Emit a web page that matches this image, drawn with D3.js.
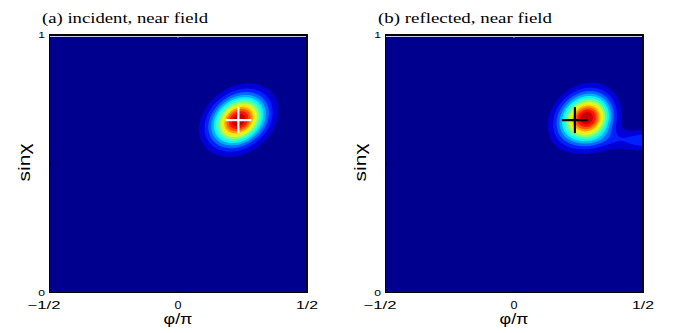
<!DOCTYPE html>
<html>
<head>
<meta charset="utf-8">
<script src="https://cdn.jsdelivr.net/npm/d3@7"></script>
<style>
  body { margin: 0; background: #fff; }
  svg { display: block; }
</style>
</head>
<body>
<svg id="chart" width="677" height="333"></svg>
<script>
// Chart values

const panelTitles = ["(a) incident, near field", "(b) reflected, near field"];
const xTicks = [-0.5, 0, 0.5];
const xTickLabels = ["\u22121/2", "0", "1/2"];
const yTicks = [0, 1];
const yTickLabels = ["0", "1"];

// Gaussian components of each intensity map (phi/pi, sin chi)
const blobA = [
  { cx: 0.235, cy: 0.67, sx: 0.067, sy: 0.062, rho: 0.25, amp: 1 }
];
const blobB = [
  { cx: 0.30, cy: 0.678, sx: 0.054, sy: 0.06, rho: 0.1, amp: 1 },
  { cx: 0.235, cy: 0.672, sx: 0.054, sy: 0.06, rho: 0.2, amp: 0.55 },
  { cx: 0.6, cy: 0.592, sx: 0.16, sy: 0.028, rho: 0, amp: 0.32 }
];
const blobs = [blobA, blobB];

// beam direction markers
const crossA = [0.234, 0.67];
const crossB = [0.236, 0.67];
const crosses = [crossA, crossB];
const crossColors = ["#fff", "#000"];

// filled contour levels (fraction of the peak)
const levels = d3.range(1, 14).map((k) => k / 14);

// //////////////////////////////////////////////////////////////////////////
// Layout

const panelLeft = [49, 385];
const plotTop = 35;
const plotW = 258;
const plotH = 258;
const gridN = 258;
const sans = "Liberation Sans, Arial, sans-serif";
const serif = "Liberation Serif, Times New Roman, serif";

// measured text widths (the original figure is stretched sideways)
const titleWidths = [166, 174];
const xTickWidths = [33, 7, 22];

const svg = d3.select("#chart");

// MATLAB style jet colormap
const jet = (t) => {
  const x = (1 + 63 * t) / 64;
  const c = (v) => Math.max(0, Math.min(1, v));
  const r = c(1.5 - Math.abs(4 * x - 3));
  const g = c(1.5 - Math.abs(4 * x - 2));
  const b = c(1.5 - Math.abs(4 * x - 1));
  return d3.rgb(r * 255, g * 255, b * 255).formatHex();
};

const fieldValue = (comps, x, y) => {
  let v = 0;
  comps.forEach((c) => {
    const dx = (x - c.cx) / c.sx;
    const dy = (y - c.cy) / c.sy;
    const q = (dx * dx - 2 * c.rho * dx * dy + dy * dy) / (1 - c.rho * c.rho);
    v += c.amp * Math.exp(-q / 2);
  });
  return v;
};

blobs.forEach((comps, p) => {
  const left = panelLeft[p];
  const x = d3.scaleLinear().domain([-0.5, 0.5]).range([left, left + plotW]);
  const y = d3.scaleLinear().domain([0, 1]).range([plotTop + plotH, plotTop]);

  // grid values, row 0 at the top
  const values = new Array(gridN * gridN);
  for (let j = 0; j < gridN; j++) {
    for (let i = 0; i < gridN; i++) {
      const dx = -0.5 + (i + 0.5) / gridN;
      const dy = 1 - (j + 0.5) / gridN;
      values[j * gridN + i] = fieldValue(comps, dx, dy);
    }
  }
  const vmax = d3.max(values);
  for (let k = 0; k < values.length; k++) values[k] /= vmax;

  const g = svg.append("g").attr("class", "panel");

  g.append("rect")
    .attr("x", x(-0.5))
    .attr("y", y(1))
    .attr("width", plotW)
    .attr("height", plotH)
    .attr("fill", jet(0));

  const contours = d3.contours().size([gridN, gridN]).thresholds(levels)(values);

  const proj = d3.geoTransform({
    point: function (gx, gy) {
      this.stream.point(x(-0.5 + gx / gridN), y(1 - gy / gridN));
    }
  });
  const path = d3.geoPath(proj);

  g.selectAll("path.band")
    .data(contours)
    .join("path")
    .attr("class", "band")
    .attr("d", path)
    .attr("fill", (d) => jet(d.value))
    .attr("stroke", "none");

  // cross marker
  const [cxv, cyv] = crosses[p];
  const arm = 13;
  g.append("line")
    .attr("x1", x(cxv) - arm).attr("x2", x(cxv) + arm)
    .attr("y1", y(cyv)).attr("y2", y(cyv))
    .attr("stroke", crossColors[p]).attr("stroke-width", 2.2);
  g.append("line")
    .attr("x1", x(cxv)).attr("x2", x(cxv))
    .attr("y1", y(cyv) - arm).attr("y2", y(cyv) + arm)
    .attr("stroke", crossColors[p]).attr("stroke-width", 2.2);

  // frame: thin light line under the top, black box
  g.append("line")
    .attr("x1", x(-0.5) + 1).attr("x2", x(0.5) - 1)
    .attr("y1", plotTop + 1.5).attr("y2", plotTop + 1.5)
    .attr("stroke", "#c9c9ee").attr("stroke-width", 1);
  g.append("path")
    .attr("d", `M${x(-0.5) + 0.5},${plotTop + plotH - 0.5}V${plotTop}H${x(0.5)}V${plotTop + plotH - 0.5}Z`)
    .attr("fill", "none")
    .attr("stroke", "#000")
    .attr("stroke-width", 1);
  g.append("path")
    .attr("d", `M${x(-0.5)},${plotTop}H${x(0.5)}V${plotTop + plotH}`)
    .attr("fill", "none")
    .attr("stroke", "#000")
    .attr("stroke-width", 1.8);

  // inward ticks
  g.append("line")
    .attr("x1", x(0)).attr("x2", x(0))
    .attr("y1", y(0)).attr("y2", y(0) - 2.5)
    .attr("stroke", "#000").attr("stroke-width", 0.8);
  g.append("line")
    .attr("x1", x(-0.5)).attr("x2", x(-0.5) + 2.5)
    .attr("y1", y(0.5)).attr("y2", y(0.5))
    .attr("stroke", "#000").attr("stroke-width", 0.8);
  g.append("line")
    .attr("x1", x(0)).attr("x2", x(0))
    .attr("y1", y(1) + 1).attr("y2", y(1) + 3)
    .attr("stroke", "#c9c9ee").attr("stroke-width", 0.8);

  // tick labels
  g.selectAll("text.xtick")
    .data(xTicks)
    .join("text")
    .attr("class", "xtick")
    .attr("x", (d) => x(d))
    .attr("dx", (d, i) => (i === 0 ? -5 : 0))
    .attr("y", 308.5)
    .attr("text-anchor", "middle")
    .attr("font-family", sans)
    .attr("font-size", 11)
    .attr("textLength", (d, i) => xTickWidths[i])
    .attr("lengthAdjust", "spacingAndGlyphs")
    .text((d, i) => xTickLabels[i]);

  g.selectAll("text.ytick")
    .data(yTicks)
    .join("text")
    .attr("class", "ytick")
    .attr("x", x(-0.5) - 4)
    .attr("y", (d) => y(d) + 3)
    .attr("text-anchor", "end")
    .attr("font-family", sans)
    .attr("font-size", 9)
    .attr("transform", (d) => `translate(${x(-0.5) - 4},0) scale(1.35,1) translate(${-(x(-0.5) - 4)},0)`)
    .text((d, i) => yTickLabels[i]);

  // axis titles
  g.append("text")
    .attr("x", x(0))
    .attr("y", 323.5)
    .attr("text-anchor", "middle")
    .attr("font-family", sans)
    .attr("font-size", 14)
    .attr("textLength", 29)
    .attr("lengthAdjust", "spacingAndGlyphs")
    .text("\u03c6/\u03c0");

  g.append("text")
    .attr("transform", `translate(${x(-0.5) - 19},${y(0.5) - 1.5}) rotate(-90)`)
    .attr("text-anchor", "middle")
    .attr("font-family", sans)
    .attr("font-size", 17)
    .attr("textLength", 38)
    .attr("lengthAdjust", "spacingAndGlyphs")
    .text("sin\u03c7");

  // panel title
  g.append("text")
    .attr("x", x(-0.5) - 7)
    .attr("y", 22.5)
    .attr("font-family", serif)
    .attr("font-size", 15)
    .attr("textLength", titleWidths[p])
    .attr("lengthAdjust", "spacingAndGlyphs")
    .text(panelTitles[p]);
});
</script>
</body>
</html>
